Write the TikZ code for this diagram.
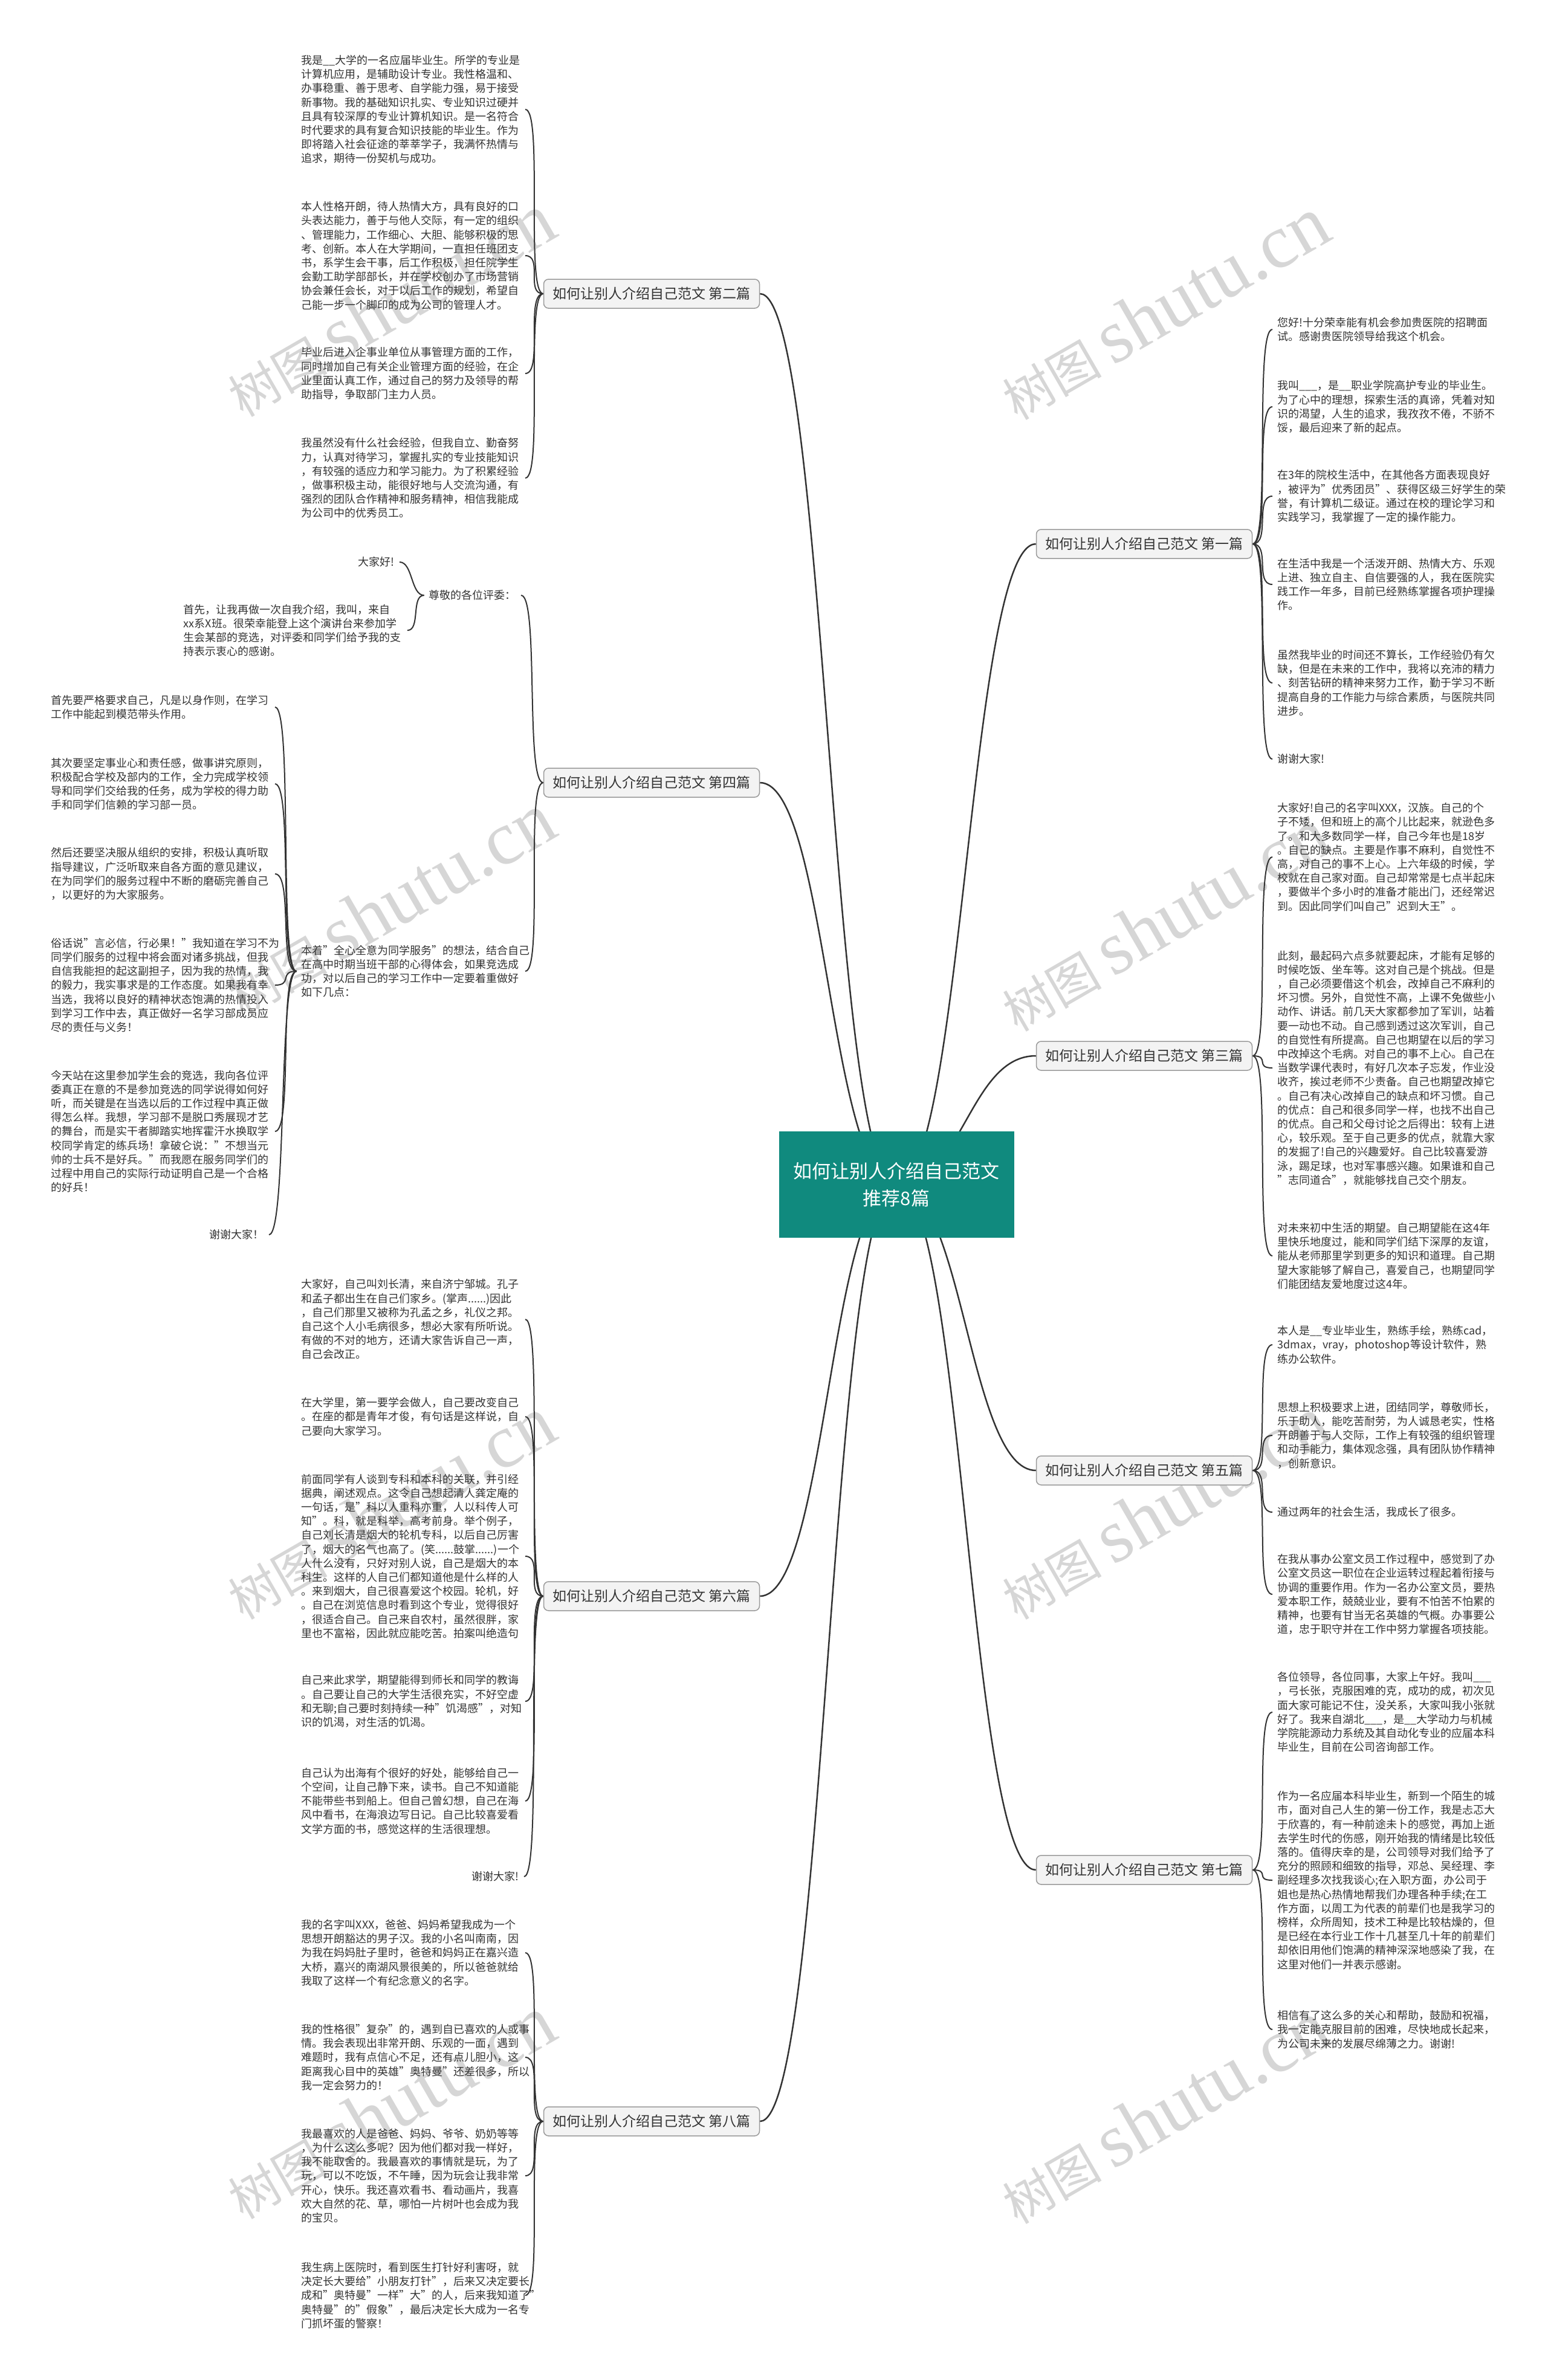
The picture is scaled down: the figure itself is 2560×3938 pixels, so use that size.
\documentclass[tikz,border=0pt]{standalone}
\usepackage{fontspec}
\setmainfont{Noto Sans CJK SC}
\newfontfamily\wmfont{Liberation Serif}
\usetikzlibrary{backgrounds}
\definecolor{rootteal}{HTML}{108A7E}
\definecolor{branchfill}{HTML}{F3F3F3}
\definecolor{branchline}{HTML}{9A9A9A}
\definecolor{inkgray}{HTML}{333333}
\definecolor{wmgray}{HTML}{D6D6D6}
\tikzset{
  rootbox/.style={fill=rootteal, text=white, minimum width=389pt, minimum height=176pt, align=center, font=\fontsize{31}{45}\selectfont},
  branchbox/.style={draw=branchline, line width=1.5pt, fill=branchfill, rounded corners=8pt, minimum width=357pt, minimum height=48pt, text=inkgray, font=\fontsize{23}{28}\selectfont},
  leafl/.style={anchor=east, text width=362pt, align=left, inner xsep=8pt, inner ysep=2pt, text=inkgray, font=\fontsize{18}{23.2}\selectfont},
  leafr/.style={leafl, anchor=west},
  wordl/.style={anchor=east, inner xsep=8pt, text=inkgray, font=\fontsize{18}{23.2}\selectfont},
  wordr/.style={wordl, anchor=west},
  conn/.style={draw=inkgray, line width=2pt},
  wm/.style={text=wmgray, rotate=30, font=\fontsize{82}{82}\selectfont}
}
\newcommand{\wmtext}{树图 {\wmfont\fontsize{126}{126}\selectfont shutu.cn}}
\begin{document}
\begin{tikzpicture}[x=1pt, y=-1pt]
\useasboundingbox (0,0) rectangle (2560,3938);

% centre
\node[rootbox] (root) at (1483,1960) {如何让别人介绍自己范文\\推荐8篇};

% left branches
\node[branchbox] (br2) at (1078,486) {如何让别人介绍自己范文 第二篇};
\node[branchbox] (br4) at (1078,1295) {如何让别人介绍自己范文 第四篇};
\node[branchbox] (br6) at (1078,2641) {如何让别人介绍自己范文 第六篇};
\node[branchbox] (br8) at (1078,3510) {如何让别人介绍自己范文 第八篇};
% right branches
\node[branchbox] (br1) at (1893,900) {如何让别人介绍自己范文 第一篇};
\node[branchbox] (br3) at (1893,1747) {如何让别人介绍自己范文 第三篇};
\node[branchbox] (br5) at (1893,2433) {如何让别人介绍自己范文 第五篇};
\node[branchbox] (br7) at (1893,3094) {如何让别人介绍自己范文 第七篇};

% second
\node[leafl] (a1) at (869,181) {我是\_\_大学的一名应届毕业生。所学的专业是\\计算机应用，是辅助设计专业。我性格温和、\\办事稳重、善于思考、自学能力强，易于接受\\新事物。我的基础知识扎实、专业知识过硬并\\且具有较深厚的专业计算机知识。是一名符合\\时代要求的具有复合知识技能的毕业生。作为\\即将踏入社会征途的莘莘学子，我满怀热情与\\追求，期待一份契机与成功。};
\node[leafl] (a2) at (869,423) {本人性格开朗，待人热情大方，具有良好的口\\头表达能力，善于与他人交际，有一定的组织\\、管理能力，工作细心、大胆、能够积极的思\\考、创新。本人在大学期间，一直担任班团支\\书，系学生会干事，后工作积极，担任院学生\\会勤工助学部部长，并在学校创办了市场营销\\协会兼任会长，对于以后工作的规划，希望自\\己能一步一个脚印的成为公司的管理人才。};
\node[leafl] (a3) at (869,618) {毕业后进入企事业单位从事管理方面的工作，\\同时增加自己有关企业管理方面的经验，在企\\业里面认真工作，通过自己的努力及领导的帮\\助指导，争取部门主力人员。};
\node[leafl] (a4) at (869,791) {我虽然没有什么社会经验，但我自立、勤奋努\\力，认真对待学习，掌握扎实的专业技能知识\\，有较强的适应力和学习能力。为了积累经验\\，做事积极主动，能很好地与人交流沟通，有\\强烈的团队合作精神和服务精神，相信我能成\\为公司中的优秀员工。};

% fourth
\node[wordl] (c0) at (862,985) {尊敬的各位评委：};
\node[wordl] (c1) at (661,930) {大家好!};
\node[leafl] (c2) at (674,1043) {首先，让我再做一次自我介绍，我叫，来自\\xx系X班。很荣幸能登上这个演讲台来参加学\\生会某部的竞选，对评委和同学们给予我的支\\持表示衷心的感谢。};
\node[leafl] (d0) at (869,1607) {本着"全心全意为同学服务"的想法，结合自己\\在高中时期当班干部的心得体会，如果竞选成\\功，对以后自己的学习工作中一定要着重做好\\如下几点：};
\node[leafl] (l1) at (455,1170) {首先要严格要求自己，凡是以身作则，在学习\\工作中能起到模范带头作用。};
\node[leafl] (l2) at (455,1297) {其次要坚定事业心和责任感，做事讲究原则，\\积极配合学校及部内的工作，全力完成学校领\\导和同学们交给我的任务，成为学校的得力助\\手和同学们信赖的学习部一员。};
\node[leafl] (l3) at (455,1446) {然后还要坚决服从组织的安排，积极认真听取\\指导建议，广泛听取来自各方面的意见建议，\\在为同学们的服务过程中不断的磨砺完善自己\\，以更好的为大家服务。};
\node[leafl] (l4) at (455,1630) {俗话说"言必信，行必果！"我知道在学习不为\\同学们服务的过程中将会面对诸多挑战，但我\\自信我能担的起这副担子，因为我的热情，我\\的毅力，我实事求是的工作态度。如果我有幸\\当选，我将以良好的精神状态饱满的热情投入\\到学习工作中去，真正做好一名学习部成员应\\尽的责任与义务！};
\node[leafl] (l5) at (455,1872) {今天站在这里参加学生会的竞选，我向各位评\\委真正在意的不是参加竞选的同学说得如何好\\听，而关键是在当选以后的工作过程中真正做\\得怎么样。我想，学习部不是脱口秀展现才艺\\的舞台，而是实干者脚踏实地挥霍汗水换取学\\校同学肯定的练兵场！拿破仑说："不想当元\\帅的士兵不是好兵。"而我愿在服务同学们的\\过程中用自己的实际行动证明自己是一个合格\\的好兵！};
\node[wordl] (l6) at (445,2043) {谢谢大家！};

% sixth
\node[leafl] (s1) at (869,2183) {大家好，自己叫刘长清，来自济宁邹城。孔子\\和孟子都出生在自己们家乡。(掌声......)因此\\，自己们那里又被称为孔孟之乡，礼仪之邦。\\自己这个人小毛病很多，想必大家有所听说。\\有做的不对的地方，还请大家告诉自己一声，\\自己会改正。};
\node[leafl] (s2) at (869,2344) {在大学里，第一要学会做人，自己要改变自己\\。在座的都是青年才俊，有句话是这样说，自\\己要向大家学习。};
\node[leafl] (s3) at (869,2575) {前面同学有人谈到专科和本科的关联，并引经\\据典，阐述观点。这令自己想起清人龚定庵的\\一句话，是"科以人重科亦重，人以科传人可\\知"。科，就是科举，高考前身。举个例子，\\自己刘长清是烟大的轮机专科，以后自己厉害\\了，烟大的名气也高了。(笑......鼓掌......)一个\\人什么没有，只好对别人说，自己是烟大的本\\科生。这样的人自己们都知道他是什么样的人\\。来到烟大，自己很喜爱这个校园。轮机，好\\。自己在浏览信息时看到这个专业，觉得很好\\，很适合自己。自己来自农村，虽然很胖，家\\里也不富裕，因此就应能吃苦。拍案叫绝造句};
\node[leafl] (s4) at (869,2815) {自己来此求学，期望能得到师长和同学的教诲\\。自己要让自己的大学生活很充实，不好空虚\\和无聊;自己要时刻持续一种"饥渴感"，对知\\识的饥渴，对生活的饥渴。};
\node[leafl] (s5) at (869,2980) {自己认为出海有个很好的好处，能够给自己一\\个空间，让自己静下来，读书。自己不知道能\\不能带些书到船上。但自己曾幻想，自己在海\\风中看书，在海浪边写日记。自己比较喜爱看\\文学方面的书，感觉这样的生活很理想。};
\node[wordl] (s6) at (867,3105) {谢谢大家!};

% eighth
\node[leafl] (e1) at (869,3231) {我的名字叫XXX，爸爸、妈妈希望我成为一个\\思想开朗豁达的男子汉。我的小名叫南南，因\\为我在妈妈肚子里时，爸爸和妈妈正在嘉兴造\\大桥，嘉兴的南湖风景很美的，所以爸爸就给\\我取了这样一个有纪念意义的名字。};
\node[leafl] (e2) at (869,3404) {我的性格很"复杂"的，遇到自已喜欢的人或事\\情。我会表现出非常开朗、乐观的一面，遇到\\难题时，我有点信心不足，还有点儿胆小，这\\距离我心目中的英雄"奥特曼"还差很多，所以\\我一定会努力的！};
\node[leafl] (e3) at (869,3600) {我最喜欢的人是爸爸、妈妈、爷爷、奶奶等等\\，为什么这么多呢？因为他们都对我一样好，\\我不能取舍的。我最喜欢的事情就是玩，为了\\玩，可以不吃饭，不午睡，因为玩会让我非常\\开心，快乐。我还喜欢看书、看动画片，我喜\\欢大自然的花、草，哪怕一片树叶也会成为我\\的宝贝。};
\node[leafl] (e4) at (869,3798) {我生病上医院时，看到医生打针好利害呀，就\\决定长大要给"小朋友打针"，后来又决定要长\\成和"奥特曼"一样"大"的人，后来我知道了"\\奥特曼"的"假象"，最后决定长大成为一名专\\门抓坏蛋的警察！};

% first
\node[leafr] (r1) at (2105,545) {您好!十分荣幸能有机会参加贵医院的招聘面\\试。感谢贵医院领导给我这个机会。};
\node[leafr] (r2) at (2105,673) {我叫\_\_\_，是\_\_职业学院高护专业的毕业生。\\为了心中的理想，探索生活的真谛，凭着对知\\识的渴望，人生的追求，我孜孜不倦，不骄不\\馁，最后迎来了新的起点。};
\node[leafr] (r3) at (2105,821) {在3年的院校生活中，在其他各方面表现良好\\，被评为"优秀团员"、获得区级三好学生的荣\\誉，有计算机二级证。通过在校的理论学习和\\实践学习，我掌握了一定的操作能力。};
\node[leafr] (r4) at (2105,967) {在生活中我是一个活泼开朗、热情大方、乐观\\上进、独立自主、自信要强的人，我在医院实\\践工作一年多，目前已经熟练掌握各项护理操\\作。};
\node[leafr] (r5) at (2105,1130) {虽然我毕业的时间还不算长，工作经验仍有欠\\缺，但是在未来的工作中，我将以充沛的精力\\、刻苦钻研的精神来努力工作，勤于学习不断\\提高自身的工作能力与综合素质，与医院共同\\进步。};
\node[wordr] (r6) at (2105,1256) {谢谢大家!};

% third
\node[leafr] (t1) at (2105,1418) {大家好!自己的名字叫XXX，汉族。自己的个\\子不矮，但和班上的高个儿比起来，就逊色多\\了。和大多数同学一样，自己今年也是18岁\\。自己的缺点。主要是作事不麻利，自觉性不\\高，对自己的事不上心。上六年级的时候，学\\校就在自己家对面。自己却常常是七点半起床\\，要做半个多小时的准备才能出门，还经常迟\\到。因此同学们叫自己"迟到大王"。};
\node[leafr] (t2) at (2105,1767) {此刻，最起码六点多就要起床，才能有足够的\\时候吃饭、坐车等。这对自己是个挑战。但是\\，自己必须要借这个机会，改掉自己不麻利的\\坏习惯。另外，自觉性不高，上课不免做些小\\动作、讲话。前几天大家都参加了军训，站着\\要一动也不动。自己感到透过这次军训，自己\\的自觉性有所提高。自己也期望在以后的学习\\中改掉这个毛病。对自己的事不上心。自己在\\当数学课代表时，有好几次本子忘发，作业没\\收齐，挨过老师不少责备。自己也期望改掉它\\。自己有决心改掉自己的缺点和坏习惯。自己\\的优点：自己和很多同学一样，也找不出自己\\的优点。自己和父母讨论之后得出：较有上进\\心，较乐观。至于自己更多的优点，就靠大家\\的发掘了!自己的兴趣爱好。自己比较喜爱游\\泳，踢足球，也对军事感兴趣。如果谁和自己\\"志同道合"，就能够找自己交个朋友。};
\node[leafr] (t3) at (2105,2078) {对未来初中生活的期望。自己期望能在这4年\\里快乐地度过，能和同学们结下深厚的友谊，\\能从老师那里学到更多的知识和道理。自己期\\望大家能够了解自己，喜爱自己，也期望同学\\们能团结友爱地度过这4年。};

% fifth
\node[leafr] (f1) at (2105,2225) {本人是\_\_专业毕业生，熟练手绘，熟练cad，\\3dmax，vray，photoshop等设计软件，熟\\练办公软件。};
\node[leafr] (f2) at (2105,2375) {思想上积极要求上进，团结同学，尊敬师长，\\乐于助人，能吃苦耐劳，为人诚恳老实，性格\\开朗善于与人交际，工作上有较强的组织管理\\和动手能力，集体观念强，具有团队协作精神\\，创新意识。};
\node[wordr] (f3) at (2105,2502) {通过两年的社会生活，我成长了很多。};
\node[leafr] (f4) at (2105,2638) {在我从事办公室文员工作过程中，感觉到了办\\公室文员这一职位在企业运转过程起着衔接与\\协调的重要作用。作为一名办公室文员，要热\\爱本职工作，兢兢业业，要有不怕苦不怕累的\\精神，也要有甘当无名英雄的气概。办事要公\\道，忠于职守并在工作中努力掌握各项技能。};

% seventh
\node[leafr] (g1) at (2105,2833) {各位领导，各位同事，大家上午好。我叫\_\_\_\\，弓长张，克服困难的克，成功的成，初次见\\面大家可能记不住，没关系，大家叫我小张就\\好了。我来自湖北\_\_\_，是\_\_大学动力与机械\\学院能源动力系统及其自动化专业的应届本科\\毕业生，目前在公司咨询部工作。};
\node[leafr] (g2) at (2105,3111) {作为一名应届本科毕业生，新到一个陌生的城\\市，面对自己人生的第一份工作，我是忐忑大\\于欣喜的，有一种前途未卜的感觉，再加上逝\\去学生时代的伤感，刚开始我的情绪是比较低\\落的。值得庆幸的是，公司领导对我们给予了\\充分的照顾和细致的指导，邓总、吴经理、李\\副经理多次找我谈心;在入职方面，办公司于\\姐也是热心热情地帮我们办理各种手续;在工\\作方面，以周工为代表的前辈们也是我学习的\\榜样，众所周知，技术工种是比较枯燥的，但\\是已经在本行业工作十几甚至几十年的前辈们\\却依旧用他们饱满的精神深深地感染了我，在\\这里对他们一并表示感谢。};
\node[leafr] (g3) at (2105,3358) {相信有了这么多的关心和帮助，鼓励和祝福，\\我一定能克服目前的困难，尽快地成长起来，\\为公司未来的发展尽绵薄之力。谢谢!};

\begin{scope}[on background layer]
\fill[white] (0,0) rectangle (2560,3938);
% watermark
\node[wm] (wm1) at (645,505) {\wmtext};
\node[wm] (wm2) at (1926,510) {\wmtext};
\node[wm] (wm3) at (645,1497) {\wmtext};
\node[wm] (wm4) at (1926,1522) {\wmtext};
\node[wm] (wm5) at (645,2495) {\wmtext};
\node[wm] (wm6) at (1926,2495) {\wmtext};
\node[wm] (wm7) at (645,3487) {\wmtext};
\node[wm] (wm8) at (1926,3495) {\wmtext};

% centre to branches
\draw[conn, line width=2.5pt] (root.center) .. controls +(-110,0) and +(110,0) .. (br2.east);
\draw[conn, line width=2.5pt] (root.center) .. controls +(-110,0) and +(110,0) .. (br4.east);
\draw[conn, line width=2.5pt] (root.center) .. controls +(-110,0) and +(110,0) .. (br6.east);
\draw[conn, line width=2.5pt] (root.center) .. controls +(-110,0) and +(110,0) .. (br8.east);
\draw[conn, line width=2.5pt] (root.center) .. controls +(110,0) and +(-110,0) .. (br1.west);
\draw[conn, line width=2.5pt] (root.center) .. controls +(110,0) and +(-110,0) .. (br3.west);
\draw[conn, line width=2.5pt] (root.center) .. controls +(110,0) and +(-110,0) .. (br5.west);
\draw[conn, line width=2.5pt] (root.center) .. controls +(110,0) and +(-110,0) .. (br7.west);

% left leaves
\draw[conn] (br2.west) .. controls +(-30,0) and +(30,0) .. (a1.east);
\draw[conn] (br2.west) .. controls +(-30,0) and +(30,0) .. (a2.east);
\draw[conn] (br2.west) .. controls +(-30,0) and +(30,0) .. (a3.east);
\draw[conn] (br2.west) .. controls +(-30,0) and +(30,0) .. (a4.east);
\draw[conn] (br4.west) .. controls +(-30,0) and +(30,0) .. (c0.east);
\draw[conn] (br4.west) .. controls +(-30,0) and +(30,0) .. (d0.east);
\draw[conn] (c0.west) .. controls +(-22,0) and +(22,0) .. (c1.east);
\draw[conn] (c0.west) .. controls +(-22,0) and +(22,0) .. (c2.east);
\draw[conn] (d0.west) .. controls +(-30,0) and +(30,0) .. (l1.east);
\draw[conn] (d0.west) .. controls +(-30,0) and +(30,0) .. (l2.east);
\draw[conn] (d0.west) .. controls +(-30,0) and +(30,0) .. (l3.east);
\draw[conn] (d0.west) .. controls +(-30,0) and +(30,0) .. (l4.east);
\draw[conn] (d0.west) .. controls +(-30,0) and +(30,0) .. (l5.east);
\draw[conn] (d0.west) .. controls +(-30,0) and +(30,0) .. (l6.east);
\draw[conn] (br6.west) .. controls +(-30,0) and +(30,0) .. (s1.east);
\draw[conn] (br6.west) .. controls +(-30,0) and +(30,0) .. (s2.east);
\draw[conn] (br6.west) .. controls +(-30,0) and +(30,0) .. (s3.east);
\draw[conn] (br6.west) .. controls +(-30,0) and +(30,0) .. (s4.east);
\draw[conn] (br6.west) .. controls +(-30,0) and +(30,0) .. (s5.east);
\draw[conn] (br6.west) .. controls +(-30,0) and +(30,0) .. (s6.east);
\draw[conn] (br8.west) .. controls +(-30,0) and +(30,0) .. (e1.east);
\draw[conn] (br8.west) .. controls +(-30,0) and +(30,0) .. (e2.east);
\draw[conn] (br8.west) .. controls +(-30,0) and +(30,0) .. (e3.east);
\draw[conn] (br8.west) .. controls +(-30,0) and +(30,0) .. (e4.east);

% right leaves
\draw[conn] (br1.east) .. controls +(30,0) and +(-30,0) .. (r1.west);
\draw[conn] (br1.east) .. controls +(30,0) and +(-30,0) .. (r2.west);
\draw[conn] (br1.east) .. controls +(30,0) and +(-30,0) .. (r3.west);
\draw[conn] (br1.east) .. controls +(30,0) and +(-30,0) .. (r4.west);
\draw[conn] (br1.east) .. controls +(30,0) and +(-30,0) .. (r5.west);
\draw[conn] (br1.east) .. controls +(30,0) and +(-30,0) .. (r6.west);
\draw[conn] (br3.east) .. controls +(30,0) and +(-30,0) .. (t1.west);
\draw[conn] (br3.east) .. controls +(30,0) and +(-30,0) .. (t2.west);
\draw[conn] (br3.east) .. controls +(30,0) and +(-30,0) .. (t3.west);
\draw[conn] (br5.east) .. controls +(30,0) and +(-30,0) .. (f1.west);
\draw[conn] (br5.east) .. controls +(30,0) and +(-30,0) .. (f2.west);
\draw[conn] (br5.east) .. controls +(30,0) and +(-30,0) .. (f3.west);
\draw[conn] (br5.east) .. controls +(30,0) and +(-30,0) .. (f4.west);
\draw[conn] (br7.east) .. controls +(30,0) and +(-30,0) .. (g1.west);
\draw[conn] (br7.east) .. controls +(30,0) and +(-30,0) .. (g2.west);
\draw[conn] (br7.east) .. controls +(30,0) and +(-30,0) .. (g3.west);
\end{scope}
\end{tikzpicture}
\end{document}
